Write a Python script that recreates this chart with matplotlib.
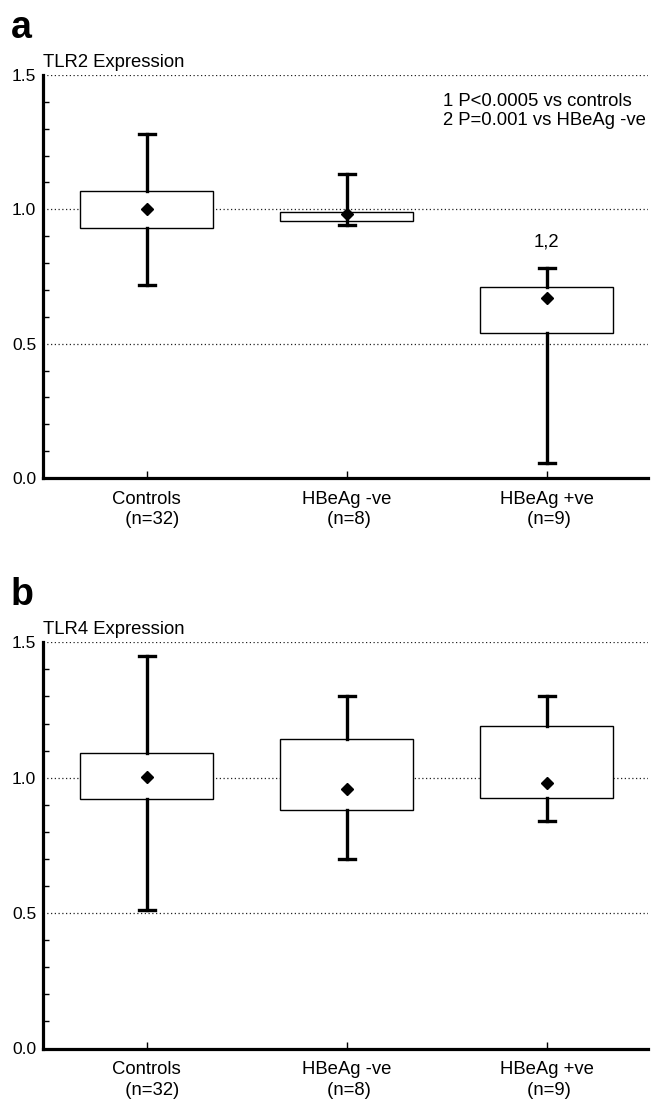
import matplotlib
matplotlib.use("Agg")
import matplotlib.pyplot as plt
from matplotlib.ticker import MultipleLocator

plt.rcParams['font.family'] = ['Liberation Sans', 'DejaVu Sans']

# ---- data ----
categories = ["Controls\n  (n=32)", "HBeAg -ve\n (n=8)", "HBeAg +ve\n (n=9)"]

tlr2_whislo = [0.72, 0.94, 0.055]
tlr2_q1     = [0.93, 0.958, 0.54]
tlr2_mean   = [1.00, 0.981, 0.671]
tlr2_q3     = [1.07, 0.989, 0.712]
tlr2_whishi = [1.28, 1.13, 0.78]

tlr4_whislo = [0.51, 0.70, 0.84]
tlr4_q1     = [0.92, 0.88, 0.924]
tlr4_mean   = [1.004, 0.959, 0.979]
tlr4_q3     = [1.09, 1.142, 1.192]
tlr4_whishi = [1.45, 1.30, 1.30]

y_ticks = [0.0, 0.5, 1.0, 1.5]
y_ticklabels = ["0.0", "0.5", "1.0", "1.5"]

W, H = 657, 1106
fig = plt.figure(figsize=(W / 100, H / 100), dpi=100)

left = 42.5 / W
width = (648 - 42.5) / W


def make_stats(lo, q1, mean, q3, hi):
    out = []
    for a, b, m, c, d in zip(lo, q1, mean, q3, hi):
        out.append(dict(whislo=a, q1=b, med=m, mean=m, q3=c, whishi=d, fliers=[]))
    return out


def panel(ax, stats):
    ax.set_xlim(0.479, 3.5065)
    ax.set_ylim(0, 1.5)
    ax.yaxis.grid(True, which='major', linestyle=(0, (1, 2)), color='#222222', linewidth=0.9)
    ax.set_axisbelow(True)
    ax.bxp(stats, positions=[1, 2, 3], widths=0.667, capwidths=0.08,
           showmeans=True, showfliers=False, patch_artist=True,
           boxprops=dict(facecolor='white', edgecolor='black', linewidth=1.0),
           whiskerprops=dict(color='black', linewidth=2.4),
           capprops=dict(color='black', linewidth=2.4),
           medianprops=dict(linewidth=0),
           meanprops=dict(marker='D', markerfacecolor='black', markeredgecolor='black', markersize=6.3))
    for s in ['top', 'right']:
        ax.spines[s].set_visible(False)
    for s in ['left', 'bottom']:
        ax.spines[s].set_linewidth(2.3)
    ax.set_yticks(y_ticks)
    ax.set_yticklabels(y_ticklabels)
    ax.yaxis.set_minor_locator(MultipleLocator(0.1))
    ax.tick_params(axis='y', which='major', length=0, pad=4.5, labelsize=12.5)
    ax.tick_params(axis='y', which='minor', direction='in', length=4.5, width=1.0)
    ax.set_xticks([1, 2, 3])
    ax.set_xticklabels(categories, linespacing=1.3)
    ax.tick_params(axis='x', which='major', direction='in', length=5, width=1.0, pad=9, labelsize=13.3)


def fy(px):
    return (H - px) / H


# Panel a
ax1 = fig.add_axes([left, fy(478), width, fy(75) - fy(478)])
panel(ax1, make_stats(tlr2_whislo, tlr2_q1, tlr2_mean, tlr2_q3, tlr2_whishi))
ax1.text(2.48, 1.386, "1 P<0.0005 vs controls", fontsize=13.3, va='baseline', ha='left')
ax1.text(2.48, 1.314, "2 P=0.001 vs HBeAg -ve", fontsize=13.3, va='baseline', ha='left')
ax1.text(3.0, 0.861, "1,2", fontsize=13.3, va='baseline', ha='center')

# Panel b
ax2 = fig.add_axes([left, fy(1048.5), width, fy(642.3) - fy(1048.5)])
panel(ax2, make_stats(tlr4_whislo, tlr4_q1, tlr4_mean, tlr4_q3, tlr4_whishi))

fig.text(43 / W, fy(66.7), "TLR2 Expression", fontsize=13.3, va='baseline', ha='left')
fig.text(43 / W, fy(633.5), "TLR4 Expression", fontsize=13.3, va='baseline', ha='left')
fig.text(11 / W, fy(38), "a", fontsize=27, fontweight='bold', va='baseline', ha='left')
fig.text(11 / W, fy(605), "b", fontsize=27, fontweight='bold', va='baseline', ha='left')

fig.savefig("out.png", dpi=100)
